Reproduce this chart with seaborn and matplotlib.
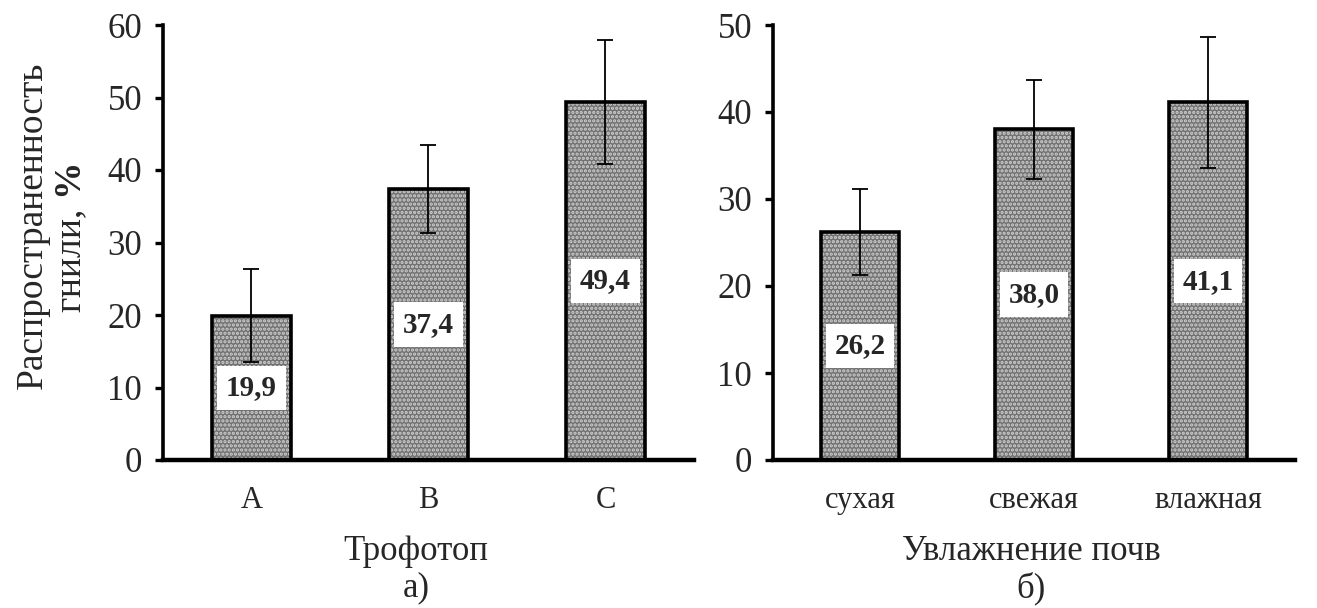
import matplotlib
matplotlib.use("Agg")
import matplotlib.pyplot as plt
import seaborn as sns
import pandas as pd

# ---- data ----
troph_cats = ["A", "B", "C"]
troph_vals = [19.9, 37.4, 49.4]
troph_err = [6.4, 6.1, 8.6]
troph_labels = ["19,9", "37,4", "49,4"]

moist_cats = ["сухая", "свежая", "влажная"]
moist_vals = [26.2, 38.0, 41.1]
moist_err = [4.9, 5.7, 7.5]
moist_labels = ["26,2", "38,0", "41,1"]

sns.set_theme(style="white")
plt.rcParams["font.family"] = ["Liberation Serif", "DejaVu Serif"]
plt.rcParams["mathtext.fontset"] = "custom"
plt.rcParams["mathtext.rm"] = "Liberation Serif"
plt.rcParams["mathtext.bf"] = "Liberation Serif:bold"
plt.rcParams["hatch.linewidth"] = 1.6

fig = plt.figure(figsize=(13.17, 6.08), dpi=100)
W, H = 1317, 608
ax1 = fig.add_axes([163 / W, 148 / H, 531 / W, 435 / H])
ax2 = fig.add_axes([773 / W, 148 / H, 522 / W, 435 / H])


def draw(ax, cats, vals, errs, labels, ymax, xlabel, tag, xc):
    df = pd.DataFrame({"cat": cats, "val": vals})
    sns.barplot(data=df, x="cat", y="val", ax=ax, color="#727272",
                saturation=1, width=0.45, edgecolor="#d0d0d0",
                linewidth=0, hatch="....", errorbar=None, zorder=2)
    sns.barplot(data=df, x="cat", y="val", ax=ax, fill=False,
                edgecolor="black", linewidth=2.6, width=0.45,
                errorbar=None, zorder=3)
    xs = list(range(len(cats)))
    ax.errorbar(xs, vals, yerr=errs, fmt="none", ecolor="black",
                elinewidth=1.3, capsize=6, capthick=1.3, zorder=4)
    for x, v, lab in zip(xs, vals, labels):
        ax.text(x, v / 2, lab, ha="center", va="center", fontsize=21,
                fontweight="bold", zorder=5,
                bbox=dict(facecolor="white", edgecolor="none",
                          boxstyle="square,pad=0.3"))
    ax.set_xlim(-0.5, 2.5)
    ax.set_ylim(0, ymax)
    ax.set_yticks(range(0, ymax + 1, 10))
    ax.set_xlabel("")
    ax.set_ylabel("")
    for s in ["top", "right"]:
        ax.spines[s].set_visible(False)
    ax.spines["left"].set_linewidth(2.6)
    ax.spines["bottom"].set_linewidth(3.2)
    ax.spines["left"].set_color("black")
    ax.spines["bottom"].set_color("black")
    ax.tick_params(axis="y", length=6, width=2.4, direction="out",
                   labelsize=25, pad=9, left=True, color="black")
    ax.tick_params(axis="x", length=0, labelsize=22, pad=19)
    fig.text(xc / W, 1 - 552 / H, xlabel, ha="center", va="center",
             fontsize=25)
    fig.text(xc / W, 1 - 588 / H, tag, ha="center", va="center",
             fontsize=25)


draw(ax1, troph_cats, troph_vals, troph_err, troph_labels, 60,
     "Трофотоп", "а)", 416)
draw(ax2, moist_cats, moist_vals, moist_err, moist_labels, 50,
     "Увлажнение почв", "б)", 1031)

fig.text(33 / W, 1 - 225 / H, "Распространенность", rotation=90,
         ha="center", va="center", fontsize=27)
fig.text(72 / W, 1 - 238 / H, r"гнили, $\mathbf{\%}$", rotation=90,
         ha="center", va="center", fontsize=27)

fig.savefig("out.png", dpi=100)
